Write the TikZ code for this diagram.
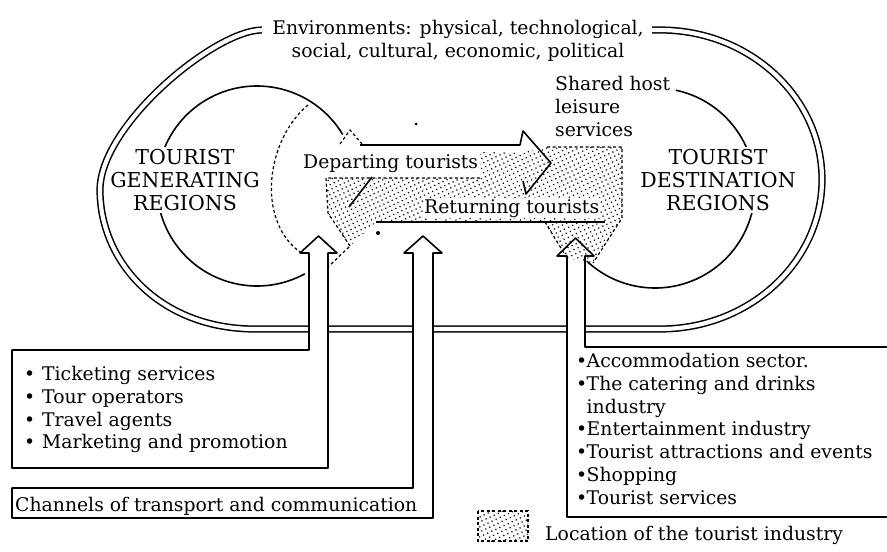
\documentclass[tikz,border=0pt]{standalone}
\usepackage{fontspec}
\setmainfont{DejaVu Serif}
\usetikzlibrary{patterns.meta}
% bullets with a fixed gap before the item text
\newcommand{\bulwide}{\makebox[18pt][l]{\textbullet}}
\newcommand{\bulnarrow}{\makebox[10.5pt][l]{\textbullet}}
\begin{document}
\begin{tikzpicture}[x=1pt,y=-1pt,
  ink/.style={line width=1.6pt, line join=round},
  envloop/.style={draw=black, line width=1.5pt, double=white, double distance=4.2pt},
  thindash/.style={line width=1.2pt, dash pattern=on 3pt off 2.5pt},
  stipple/.style={pattern={Dots[distance=4.5pt, radius=0.85pt, angle=25]}},
  txt/.style={font=\fontsize{18.8}{22.8}\selectfont, inner sep=0pt},
  regionlbl/.style={font=\fontsize{20.5}{23}\selectfont, align=center, fill=white, inner sep=2pt},
  panel/.style={ink, fill=white},
]
\useasboundingbox (0,0) rectangle (887,552);
\clip (0,0) rectangle (887,552);

% generating region: solid outline and dashed inner boundary
\draw[ink] (257,186) ++(-31:100) arc[start angle=-31, end angle=-298.5, radius=100];
\draw[thindash] (308,105) .. controls (266,140) and (256,220) .. (300,252);
\draw[thindash] (327,268) -- (350,246);
\draw[thindash] (340,144) -- (350,130) -- (362,144);

% destination region outline
\draw[ink] (655,188) ++(-78:100) arc[start angle=-78, end angle=133, radius=100];

\node[regionlbl] (gen) at (185,180) {TOURIST\\GENERATING\\REGIONS};
\node[regionlbl] (dest) at (718,180) {TOURIST\\DESTINATION\\REGIONS};

% outer environment loop (double line), open at the top for the heading
\draw[envloop] (262,30) .. controls (215,30) and (100,125) .. (100,190)
  .. controls (100,262) and (160,329) .. (255,329) -- (660,329)
  arc[start angle=90, end angle=-90, x radius=162, y radius=149.5] -- (652,30);

% panels joined to the upward arrows
\draw[panel] (12,350) -- (309,350) -- (309,253) -- (300,253) -- (318.5,236)
  -- (337,253) -- (328,253) -- (328,468) -- (12,468) -- cycle;
\draw[panel] (12,488) -- (413,488) -- (413,253) -- (404,253) -- (423,236)
  -- (442,253) -- (433,253) -- (433,518) -- (12,518) -- cycle;
\draw[panel] (567,517) -- (567,256) -- (557,256) -- (575.5,238) -- (594,256)
  -- (585,256) -- (585,347) -- (900,347) -- (900,517) -- cycle;

% location of the tourist industry (stippled)
\path[stipple] (326,178) -- (480,178) -- (480,152) -- (523,152) -- (547,147)
  -- (622,147) -- (622,218) -- (593,263) -- (567,258) -- (545,222)
  -- (376,222) -- (350,246) -- (328,213) -- cycle;
\draw[thindash] (350,246) -- (328,213) -- (326,178) -- (480,178);
\draw[thindash] (547,147) -- (622,147) -- (622,218) -- (593,263);
\draw[thindash] (545,222) -- (567,258);

% departing and returning flows
\draw[ink] (360,145) -- (520,145) -- (523,131) -- (551,163) -- (526,194) -- (523,181);
\draw[ink] (372,177) -- (349,207);
\draw[ink] (376,222) -- (605,222);
\fill (416,124) circle[radius=1.5];
\fill (378,233) circle[radius=2];

\node[txt, anchor=base west] (dep) at (303,168) {Departing tourists};
\node[txt, anchor=base west, fill=white, inner sep=1pt] (ret) at (423,213) {Returning tourists};

% headings and lists
\node[txt, align=center] (env) at (458,41) {Environments: physical, technological,\\social, cultural, economic, political};
\node[txt, align=left, anchor=north west] (shared) at (555,76) {Shared host\\leisure\\services};
\node[txt, align=left, anchor=north west] (gensvc) at (24,366)
  {\bulwide Ticketing services\\\bulwide Tour operators\\\bulwide Travel agents\\\bulwide Marketing and promotion};
\node[txt, align=left, anchor=north west] (destsvc) at (576,353)
  {\bulnarrow Accommodation sector.\\\bulnarrow The catering and drinks\\\hspace*{10.5pt}industry\\\bulnarrow Entertainment industry\\\bulnarrow Tourist attractions and events\\\bulnarrow Shopping\\\bulnarrow Tourist services};
\node[txt, anchor=base west] (chan) at (15,511) {Channels of transport and communication};

% legend
\draw[thindash, stipple] (478,511) rectangle (528,541);
\node[txt, anchor=base west] (legtxt) at (545,540) {Location of the tourist industry};
\end{tikzpicture}
\end{document}
